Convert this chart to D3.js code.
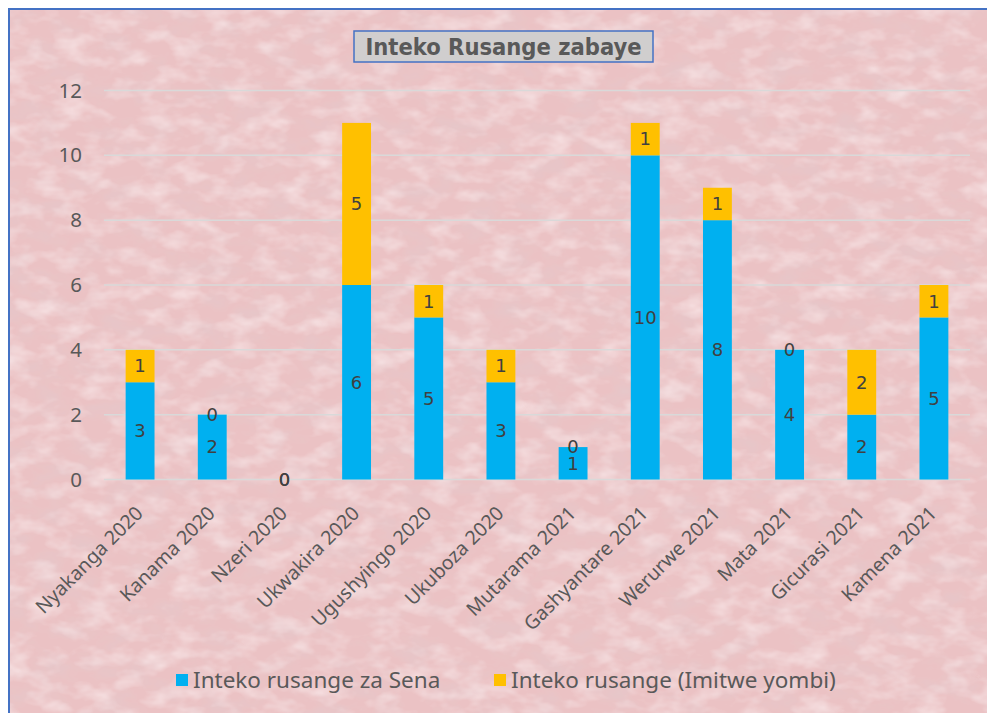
<!DOCTYPE html>
<html>
<head>
<meta charset="utf-8">
<script src="https://cdn.jsdelivr.net/npm/d3@7"></script>
<style>
  body { margin: 0; background: #fff; }
  svg { display: block; }
</style>
</head>
<body>
<div id="chart"></div>
<script>
const width = 987;
const height = 713;

const months = ['Nyakanga 2020', 'Kanama 2020', 'Nzeri 2020', 'Ukwakira 2020', 'Ugushyingo 2020', 'Ukuboza 2020',
  'Mutarama 2021', 'Gashyantare 2021', 'Werurwe 2021', 'Mata 2021', 'Gicurasi 2021', 'Kamena 2021'];
const sena = [3, 2, 0, 6, 5, 3, 1, 10, 8, 4, 2, 5];
const imitweYombi = [1, 0, 0, 5, 1, 1, 0, 1, 1, 0, 2, 1];
const yTicks = [0, 2, 4, 6, 8, 10, 12];
const seriesNames = ['Inteko rusange za Sena', 'Inteko rusange (Imitwe yombi)'];
const seriesColors = ['#00b0f0', '#ffc000'];
const title = 'Inteko Rusange zabaye';

const svg = d3.select('#chart').append('svg')
  .attr('width', width)
  .attr('height', height);

// paper-like pink texture: soft dark and light mottling over a pink base
const defs = svg.append('defs');
const filt = defs.append('filter').attr('id', 'paper')
  .attr('x', 0).attr('y', 0).attr('width', '100%').attr('height', '100%');
filt.append('feTurbulence')
  .attr('type', 'fractalNoise')
  .attr('baseFrequency', '0.03 0.05')
  .attr('numOctaves', 4)
  .attr('seed', 7)
  .attr('result', 'noise');
filt.append('feColorMatrix')
  .attr('in', 'noise')
  .attr('type', 'matrix')
  .attr('values', '0 0 0 0 0.78  0 0 0 0 0.58  0 0 0 0 0.60  -1.5 0 0 0 0.85')
  .attr('result', 'dark');
filt.append('feTurbulence')
  .attr('type', 'fractalNoise')
  .attr('baseFrequency', '0.035 0.06')
  .attr('numOctaves', 3)
  .attr('seed', 21)
  .attr('result', 'noise2');
filt.append('feColorMatrix')
  .attr('in', 'noise2')
  .attr('type', 'matrix')
  .attr('values', '0 0 0 0 0.96  0 0 0 0 0.83  0 0 0 0 0.84  1.4 0 0 0 -0.62')
  .attr('result', 'light');
filt.append('feMerge').call(m => {
  m.append('feMergeNode').attr('in', 'SourceGraphic');
  m.append('feMergeNode').attr('in', 'dark');
  m.append('feMergeNode').attr('in', 'light');
});

svg.append('rect')
  .attr('x', 9).attr('y', 9)
  .attr('width', width).attr('height', height)
  .attr('fill', '#ebc2c4')
  .attr('filter', 'url(#paper)');

// panel border (runs off right and bottom)
svg.append('path')
  .attr('d', `M9,${height + 5} L9,9 L${width + 5},9`)
  .attr('fill', 'none')
  .attr('stroke', '#4472c4')
  .attr('stroke-width', 2);

const x = d3.scaleBand()
  .domain(months)
  .range([104, 970])
  .paddingInner(0.6)
  .paddingOuter(0.3);

const y = d3.scaleLinear()
  .domain([0, 12])
  .range([479.5, 90.5]);

// gridlines
svg.append('g')
  .selectAll('line')
  .data(yTicks)
  .enter()
  .append('line')
  .attr('x1', 104).attr('x2', 970)
  .attr('y1', d => y(d)).attr('y2', d => y(d))
  .attr('stroke', '#d9d9d9')
  .attr('stroke-width', 1.5);

// y axis labels
const yAxis = svg.append('g')
  .attr('transform', 'translate(82,0)')
  .call(d3.axisLeft(y).tickValues(yTicks).tickSize(0).tickPadding(0));
yAxis.select('.domain').remove();
yAxis.selectAll('text')
  .attr('fill', '#595959')
  .style('font-family', 'Noto Sans, sans-serif')
  .style('font-size', '20.5px');

// x axis labels
const xAxis = svg.append('g')
  .attr('transform', `translate(0,${y(0)})`)
  .call(d3.axisBottom(x).tickSize(0).tickPadding(0));
xAxis.select('.domain').remove();
xAxis.selectAll('text')
  .attr('fill', '#595959')
  .style('font-family', 'Noto Sans, sans-serif')
  .style('font-size', '19.5px')
  .attr('text-anchor', 'end')
  .attr('dy', 0)
  .attr('transform', 'translate(4,35) rotate(-45)');

// stacked bars
const rows = months.map((m, i) => ({ month: m, sena: sena[i], imitwe: imitweYombi[i] }));
const stack = d3.stack().keys(['sena', 'imitwe'])(rows);

const layers = svg.selectAll('.layer')
  .data(stack)
  .enter()
  .append('g')
  .attr('class', 'layer')
  .attr('fill', (d, i) => seriesColors[i]);

layers.selectAll('rect')
  .data(d => d)
  .enter()
  .append('rect')
  .attr('x', d => x(d.data.month))
  .attr('width', x.bandwidth())
  .attr('y', d => y(d[1]))
  .attr('height', d => y(d[0]) - y(d[1]));

// value labels (zeros included, like the original)
layers.selectAll('text')
  .data(d => d)
  .enter()
  .append('text')
  .attr('x', d => x(d.data.month) + x.bandwidth() / 2)
  .attr('y', d => (y(d[0]) + y(d[1])) / 2)
  .attr('dy', '0.35em')
  .attr('text-anchor', 'middle')
  .attr('fill', '#404040')
  .style('font-family', 'DejaVu Sans, sans-serif')
  .style('font-size', '18px')
  .text(d => d[1] - d[0]);

// title box
const titleG = svg.append('g');
titleG.append('rect')
  .attr('x', 354).attr('y', 31)
  .attr('width', 299).attr('height', 31)
  .attr('fill', '#d0cece')
  .attr('stroke', '#4472c4')
  .attr('stroke-width', 1.5);
titleG.append('text')
  .attr('x', 503.5).attr('y', 47)
  .attr('dy', '0.36em')
  .attr('text-anchor', 'middle')
  .attr('fill', '#595959')
  .style('font-family', 'DejaVu Sans Condensed, DejaVu Sans, sans-serif')
  .style('font-weight', 'bold')
  .style('font-size', '23.5px')
  .text(title);

// legend
const legendPos = [176, 494];
const legend = svg.selectAll('.legend-item')
  .data(seriesNames)
  .enter()
  .append('g')
  .attr('class', 'legend-item')
  .attr('transform', (d, i) => `translate(${legendPos[i]},674)`);
legend.append('rect')
  .attr('width', 12).attr('height', 12)
  .attr('fill', (d, i) => seriesColors[i]);
legend.append('text')
  .attr('x', 17).attr('y', 6)
  .attr('dy', '0.35em')
  .attr('fill', '#595959')
  .style('font-family', 'Noto Sans, sans-serif')
  .style('font-size', '22.5px')
  .text(d => d);
</script>
</body>
</html>
